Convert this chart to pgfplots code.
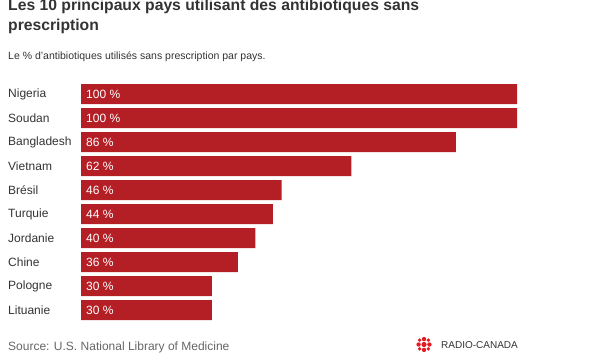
\documentclass[border=0pt]{standalone}
\usepackage{fontspec}
\setmainfont{Liberation Sans}
\usepackage{pgfplots}
\pgfplotsset{compat=1.18}
\usepackage{pgfplotstable}
\definecolor{barred}{HTML}{B41E25}
\definecolor{txt}{HTML}{333333}
\definecolor{src}{HTML}{666666}
\definecolor{logored}{HTML}{E51B24}
\pgfplotstableread[col sep=comma]{
idx,name,value
0,Nigeria,100
1,Soudan,100
2,Bangladesh,86
3,Vietnam,62
4,Brésil,46
5,Turquie,44
6,Jordanie,40
7,Chine,36
8,Pologne,30
9,Lituanie,30
}\datatable
\begin{document}
\begin{tikzpicture}
\path[use as bounding box] (0,0) rectangle (600bp,-357bp);
\node[anchor=base west, inner sep=0pt, text=txt, font=\fontsize{15.7bp}{20bp}\selectfont\bfseries] at (8bp,-10.5bp) {Les 10 principaux pays utilisant des antibiotiques sans};
\node[anchor=base west, inner sep=0pt, text=txt, font=\fontsize{15.7bp}{20bp}\selectfont\bfseries] at (8bp,-30.5bp) {prescription};
\node[anchor=base west, inner sep=0pt, text=txt, font=\fontsize{10.5bp}{13bp}\selectfont] at (8bp,-59bp) {Le \% d'antibiotiques utilisés sans prescription par pays.};
\begin{axis}[
 at={(81bp,-82bp)}, anchor=north west,
 scale only axis, width=436bp, height=240bp,
 xmin=0, xmax=100, ymin=-0.5, ymax=9.5, y dir=reverse,
 axis line style={draw=none}, tick style={draw=none},
 xtick=\empty, ytick={0,...,9},
 yticklabels from table={\datatable}{name},
 yticklabel style={anchor=west, inner sep=0pt, xshift=-73bp, font=\fontsize{12bp}{14bp}\selectfont, text=txt},
 clip=false,
]
\addplot[xbar, bar width=20bp, fill=barred, draw=none] table[x=value, y=idx]{\datatable};
\addplot[draw=none, mark=none, point meta=explicit symbolic,
  nodes near coords={\pgfplotspointmeta\ \%},
  nodes near coords align=horizontal,
  nodes near coords style={anchor=west, inner sep=0pt, xshift=5bp, text=white, font=\fontsize{12bp}{14bp}\selectfont}]
  table[x expr=0, y=idx, meta=value]{\datatable};
\end{axis}
\node[anchor=base west, inner sep=0pt, text=src, font=\fontsize{12bp}{14bp}\selectfont] at (8bp,-350bp) {Source: U.S. National Library of Medicine};
% logo
\begin{scope}[shift={(424bp,-344.5bp)}]
\fill[logored] (0,0) circle (2.6bp);
\foreach \a in {0,90,180,270} {
  \fill[logored] (\a:5.4bp) circle (2.2bp);
}
\foreach \a in {45,135,225,315} {
  \fill[logored] (\a:6.2bp) circle (1.9bp);
}
\end{scope}
\node[anchor=base west, inner sep=0pt, text=txt, font=\fontsize{10bp}{11bp}\selectfont] at (441bp,-348.5bp) {RADIO-CANADA};
\end{tikzpicture}
\end{document}
